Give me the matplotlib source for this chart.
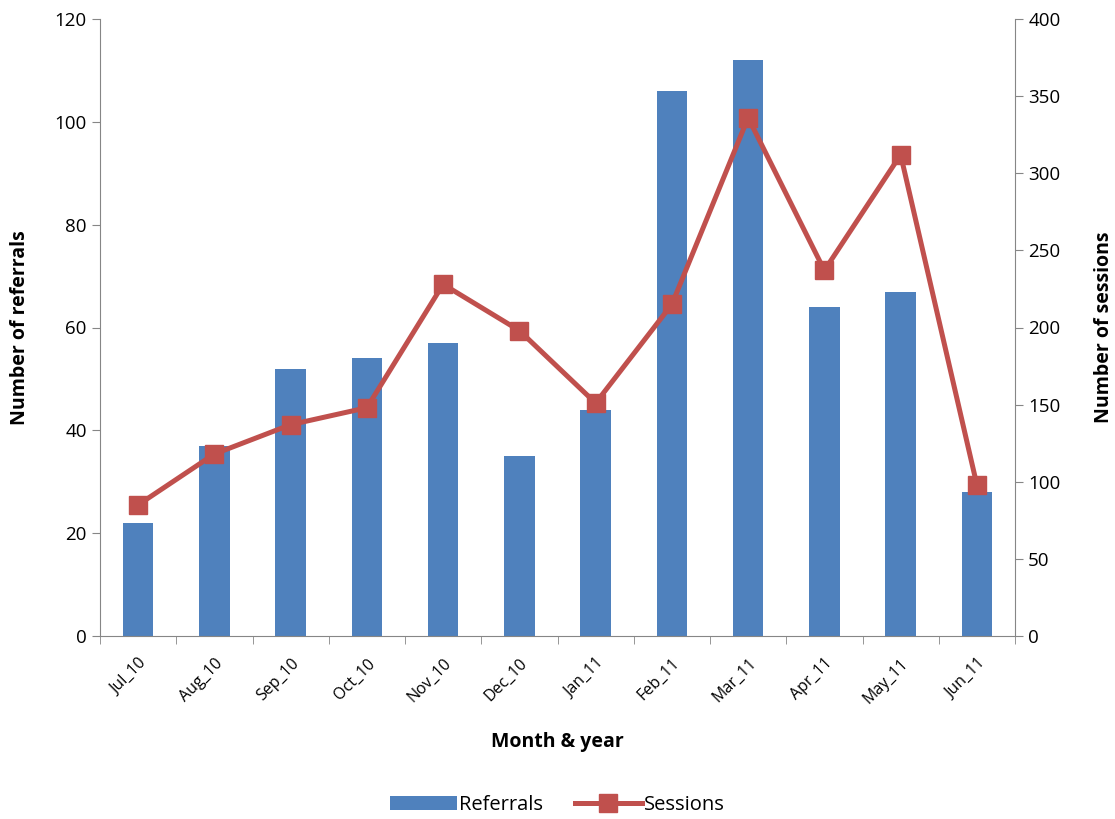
import numpy as np
import matplotlib.pyplot as plt
from matplotlib.ticker import FixedLocator, NullFormatter

plt.rcParams.update({
    "font.family": ["Open Sans", "DejaVu Sans"],
    "font.size": 13,
})

BLUE = "#4F81BD"
RED = "#C0504D"
GRAY = "#868686"

months = ["Jul_10", "Aug_10", "Sep_10", "Oct_10", "Nov_10", "Dec_10",
          "Jan_11", "Feb_11", "Mar_11", "Apr_11", "May_11", "Jun_11"]
referrals = [22, 37, 52, 54, 57, 35, 44, 106, 112, 64, 67, 28]
sessions = [85, 118, 137, 148, 228, 198, 151, 215, 336, 237, 312, 98]

fig = plt.figure(figsize=(11.15, 8.19), dpi=100)
ax = fig.add_axes([100 / 1115, 1 - 636 / 819, 915 / 1115, 617 / 819])
ax2 = ax.twinx()

x = np.arange(len(months))
bars = ax.bar(x, referrals, 0.4, color=BLUE, label="Referrals", zorder=2)
line, = ax2.plot(x, sessions, color=RED, linewidth=3.6, marker="s",
                 markersize=13, label="Sessions", zorder=3)

ax.set_xlim(-0.5, len(months) - 0.5)
ax.set_ylim(0, 120)
ax2.set_ylim(0, 400)
ax.set_yticks(np.arange(0, 121, 20))
ax2.set_yticks(np.arange(0, 401, 50))

# category labels centred, ticks between categories
ax.set_xticks(x)
ax.set_xticklabels(months, rotation=45, ha="right", rotation_mode="anchor",
                   fontsize=11.5)
ax.tick_params(axis="x", length=0, pad=14)
ax.xaxis.set_minor_locator(FixedLocator(np.arange(-0.5, len(months), 1)))
ax.xaxis.set_minor_formatter(NullFormatter())
ax.tick_params(axis="x", which="minor", length=6, color=GRAY)

for a in (ax, ax2):
    a.spines["top"].set_visible(False)
    for s in ("left", "right", "bottom"):
        a.spines[s].set_color(GRAY)
    a.tick_params(axis="y", length=6, color=GRAY, labelsize=13.5)
ax.spines["right"].set_visible(False)
ax2.spines["left"].set_visible(False)
ax2.spines["bottom"].set_visible(False)

ax.set_ylabel("Number of referrals", fontweight="bold", fontsize=14, labelpad=18)
ax2.set_ylabel("Number of sessions", fontweight="bold", fontsize=14, labelpad=24)
ax.set_xlabel("Month & year", fontweight="bold", fontsize=14, labelpad=18)

fig.legend(handles=[bars, line], labels=["Referrals", "Sessions"],
           loc="center", bbox_to_anchor=(0.5, 1 - 805 / 819), ncol=2,
           frameon=False, fontsize=14.5, handlelength=3.3, columnspacing=1.6,
           handletextpad=0.1)

fig.savefig("out.png", dpi=100)
